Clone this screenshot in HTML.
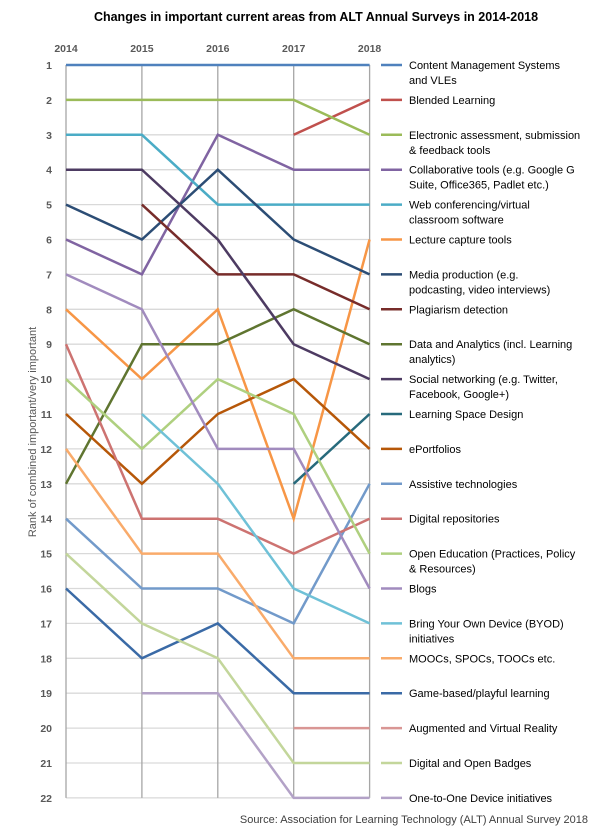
<!DOCTYPE html>
<html><head><meta charset="utf-8"><style>
body{margin:0;background:#fff;font-family:"Liberation Sans",sans-serif}
svg{display:block}
</style></head><body>
<svg id="chart" width="604" height="834">
<text x="316" y="21" text-anchor="middle" font-size="12.5" font-weight="bold" fill="#000">Changes in important current areas from ALT Annual Surveys in 2014-2018</text>
<text transform="translate(36,432) rotate(-90)" text-anchor="middle" font-size="11" fill="#595959">Rank of combined important/very important</text>
<text x="588" y="823" text-anchor="end" font-size="11" fill="#404040">Source: Association for Learning Technology (ALT) Annual Survey 2018</text>
<g id="grid"></g><g id="series"></g><g id="legend"></g>
</svg>
<script>
const years=["2014","2015","2016","2017","2018"];
const rankTicks=[1,2,3,4,5,6,7,8,9,10,11,12,13,14,15,16,17,18,19,20,21,22];
const names=["Content Management Systems|and VLEs","Blended Learning","Electronic assessment, submission|& feedback tools","Collaborative tools (e.g. Google G|Suite, Office365, Padlet etc.)","Web conferencing/virtual|classroom software","Lecture capture tools","Media production (e.g.|podcasting, video interviews)","Plagiarism detection","Data and Analytics (incl. Learning|analytics)","Social networking (e.g. Twitter,|Facebook, Google+)","Learning Space Design","ePortfolios","Assistive technologies","Digital repositories","Open Education (Practices, Policy|& Resources)","Blogs","Bring Your Own Device (BYOD)|initiatives","MOOCs, SPOCs, TOOCs etc.","Game-based/playful learning","Augmented and Virtual Reality","Digital and Open Badges","One-to-One Device initiatives"];
const s1=[1,1,1,1,1];
const s2=[null,null,null,3,2];
const s3=[2,2,2,2,3];
const s4=[6,7,3,4,4];
const s5=[3,3,5,5,5];
const s6=[8,10,8,14,6];
const s7=[5,6,4,6,7];
const s8=[null,5,7,7,8];
const s9=[13,9,9,8,9];
const s10=[4,4,6,9,10];
const s11=[null,null,null,13,11];
const s12=[11,13,11,10,12];
const s13=[14,16,16,17,13];
const s14=[9,14,14,15,14];
const s15=[10,12,10,11,15];
const s16=[7,8,12,12,16];
const s17=[null,11,13,16,17];
const s18=[12,15,15,18,18];
const s19=[16,18,17,19,19];
const s20=[null,null,null,20,20];
const s21=[15,17,18,21,21];
const s22=[null,19,19,22,22];
const seriesData=[s1,s2,s3,s4,s5,s6,s7,s8,s9,s10,s11,s12,s13,s14,s15,s16,s17,s18,s19,s20,s21,s22];
const colors=["#4F81BD","#C0504D","#9BBB59","#8064A2","#4BACC6","#F79646","#2C4D75","#772C2A","#5F7530","#4D3B62","#276A7C","#B65708","#729ACA","#CD7371","#AFD07F","#A18BBE","#6FC1D7","#F9AB6B","#3A6AA6","#D99694","#C3D69B","#B3A2C7"];
const NS="http://www.w3.org/2000/svg";
const x=i=>66+i*75.9;
const y=r=>65+(r-1)*34.9;
function mk(tag,attrs,parent,txt){const e=document.createElementNS(NS,tag);for(const k in attrs)e.setAttribute(k,attrs[k]);if(txt!==undefined)e.textContent=txt;parent.appendChild(e);return e;}
const grid=document.getElementById('grid'),ser=document.getElementById('series'),leg=document.getElementById('legend');
rankTicks.forEach(r=>{
 const l=mk('line',{x1:66,x2:x(4),y1:y(r),y2:y(r),stroke:'#d9d9d9','stroke-width':1.3},grid);
 
 
 const t=mk('text',{x:52,y:y(r)+4,'text-anchor':'end','font-size':10.5,'font-weight':'bold',fill:'#595959'},grid,String(r));
 
 
});
years.forEach((yr,i)=>{
 const l=mk('line',{x1:x(i),x2:x(i),y1:y(1),y2:y(22),stroke:'#a6a6a6','stroke-width':1.3},grid);
 
 
 const t=mk('text',{x:x(i),y:52,'text-anchor':'middle','font-size':10.5,'font-weight':'bold',fill:'#595959'},grid,yr);
 
 
});
seriesData.forEach((d,si)=>{
 let segs=[],cur=[];
 d.forEach((v,i)=>{if(v==null){if(cur.length)segs.push(cur);cur=[];}else cur.push(x(i)+','+y(v));});
 if(cur.length)segs.push(cur);
 segs.forEach(sg=>{
  const p=mk('polyline',{points:sg.join(' '),fill:'none',stroke:colors[si],'stroke-width':2.5,'stroke-linejoin':'miter'},ser);
  
  
 });
 const ly=y(si+1);
 const g=mk('g',{},leg);
 
 
 mk('line',{x1:381,x2:402,y1:ly,y2:ly,stroke:colors[si],'stroke-width':2.5},g);
 const parts=names[si].split('|');
 parts.forEach((p,k)=>{mk('text',{x:409,y:ly+4+k*15,'font-size':11,fill:'#000'},g,p);});
});
</script>
</body></html>
